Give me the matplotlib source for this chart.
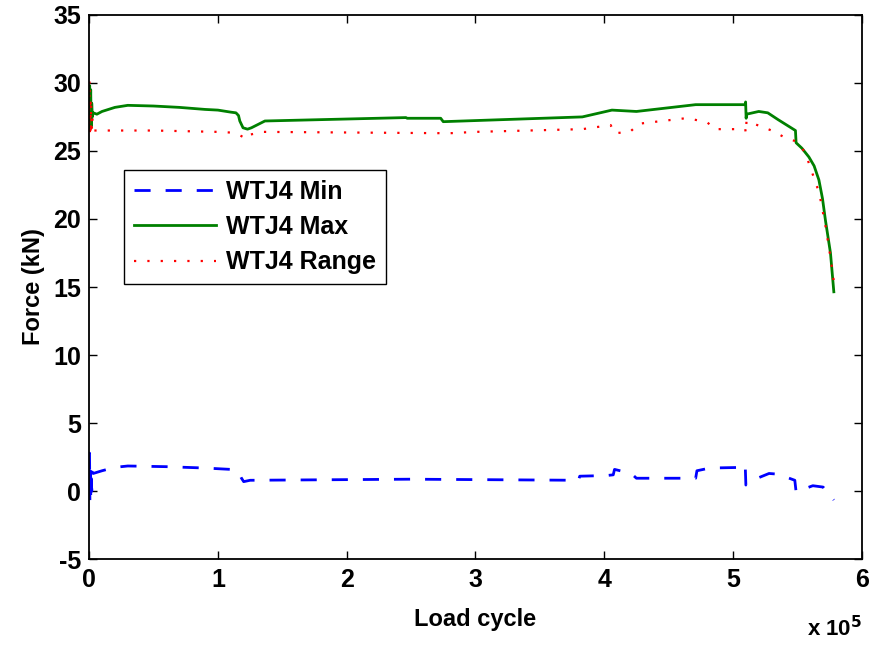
import matplotlib
matplotlib.use('Agg')
import matplotlib.pyplot as plt
from matplotlib.ticker import FuncFormatter

# load cycles and forces (kN)
max_cycle = [0, 400, 800, 1200, 1600, 2000, 2500, 3100, 6000, 10000, 20000,
             30000, 50000, 70000, 90000, 100000, 110000, 114000, 116000,
             117000, 118000, 119500, 123000, 126000, 136500, 246000, 247000,
             273000, 275000, 383000, 406000, 425000, 471000, 509500, 509800,
             510200, 510600, 520000, 527000, 535000, 548500, 549000, 553500,
             558900, 563000, 566700, 569500, 571800, 575700, 578300]
max_force = [26.5, 29.8, 27.0, 29.5, 26.8, 28.5, 27.5, 27.8, 27.7, 27.9, 28.2,
             28.35, 28.3, 28.2, 28.05, 28.0, 27.85, 27.8, 27.6,
             27.2, 27.0, 26.7, 26.6, 26.7, 27.2, 27.45, 27.4,
             27.4, 27.15, 27.5, 28.0, 27.9, 28.4, 28.4, 28.6,
             27.4, 27.7, 27.9, 27.8, 27.3, 26.5, 25.6, 25.2,
             24.56, 23.9, 22.87, 21.5, 19.9, 17.5, 14.65]

min_cycle = [0, 300, 600, 900, 1200, 1500, 2000, 2500, 3100, 10000, 20000,
             30000, 60000, 90000, 110000, 114000, 116000, 118000, 120000,
             125000, 250000, 380000, 381000, 402000, 407000, 408000, 421000,
             425000, 471000, 472000, 482000, 509000, 509500, 510000, 515000,
             528000, 535000, 548000, 549000, 562000, 570000, 578300]
min_force = [0.5, 2.8, -0.8, 2.0, -0.5, 1.5, 0.0, 1.4, 1.3, 1.5, 1.75,
             1.85, 1.8, 1.7, 1.6, 1.5, 1.4, 1.0, 0.7,
             0.8, 0.88, 0.8, 1.1, 1.15, 1.2, 1.6, 1.3,
             0.95, 0.95, 1.5, 1.7, 1.75, 1.9, 0.45, 0.8,
             1.3, 1.25, 0.8, -0.05, 0.4, 0.3, -0.65]

range_cycle = [0, 300, 600, 900, 1200, 1500, 2000, 2500, 3100, 10000, 50000,
               100000, 110000, 116000, 120000, 123000, 125000, 135000, 280000,
               300000, 383000, 405000, 408000, 420000, 427000, 463000, 470000,
               480000, 486000, 509500, 510000, 510500, 530000, 540000, 549000,
               556000, 560000, 567000, 572000, 576000, 578300]
range_force = [27.0, 30.2, 26.0, 29.0, 26.2, 28.5, 26.5, 27.5, 26.5, 26.5, 26.5,
               26.4, 26.35, 26.2, 26.0, 25.9, 26.2, 26.4, 26.3,
               26.4, 26.6, 26.9, 26.3, 26.4, 27.0, 27.4, 27.3,
               27.1, 26.6, 26.6, 26.3, 27.2, 26.5, 26.0, 25.7,
               24.9, 23.8, 21.9, 19.4, 17.0, 15.4]

plt.rcParams['font.family'] = ['Liberation Sans', 'DejaVu Sans']
plt.rcParams['font.weight'] = 'bold'
plt.rcParams['axes.unicode_minus'] = False

fig = plt.figure(figsize=(8.74, 6.45), dpi=100)
ax = fig.add_axes([0.102, 0.133, 0.884, 0.844])

ln_min, = ax.plot(min_cycle, min_force, color='#0000ff', lw=2.0,
                  label='WTJ4 Min')
ln_min.set_dashes([5.8, 5.4])
ax.plot(max_cycle, max_force, color='#008000', lw=2.0, label='WTJ4 Max')
ln_rng, = ax.plot(range_cycle, range_force, color='#ff0000', lw=1.6,
                  label='WTJ4 Range')
ln_rng.set_dashes([1.0, 5.0])

ax.set_xlim(0, 6e5)
ax.set_ylim(-5, 35)
ax.set_xticks([i * 1e5 for i in range(7)])
ax.set_yticks(range(-5, 36, 5))
ax.xaxis.set_major_formatter(FuncFormatter(lambda v, p: '%d' % round(v / 1e5)))

ax.tick_params(direction='in', length=6, width=1, top=True, right=True,
               labelsize=18, pad=6)
for lbl in ax.get_xticklabels() + ax.get_yticklabels():
    lbl.set_fontweight('bold')
for sp in ax.spines.values():
    sp.set_linewidth(1.3)

ax.set_xlabel('Load cycle', fontsize=17, fontweight='bold', labelpad=12)
ax.set_ylabel('Force (kN)', fontsize=17, fontweight='bold', labelpad=6)
ax.text(1.0, -0.105, 'x 10$^{\\mathbf{5}}$', transform=ax.transAxes,
        ha='right', va='top', fontsize=16, fontweight='bold')

leg = ax.legend(loc='upper left', bbox_to_anchor=(0.045, 0.715),
                prop={'size': 18, 'weight': 'bold'}, handlelength=3.3,
                handletextpad=0.4, labelspacing=0.45, borderpad=0.4,
                borderaxespad=0.0, fancybox=False, framealpha=1.0)
leg.get_frame().set_edgecolor('black')
leg.get_frame().set_linewidth(1.0)

fig.savefig('out.png', dpi=100)
